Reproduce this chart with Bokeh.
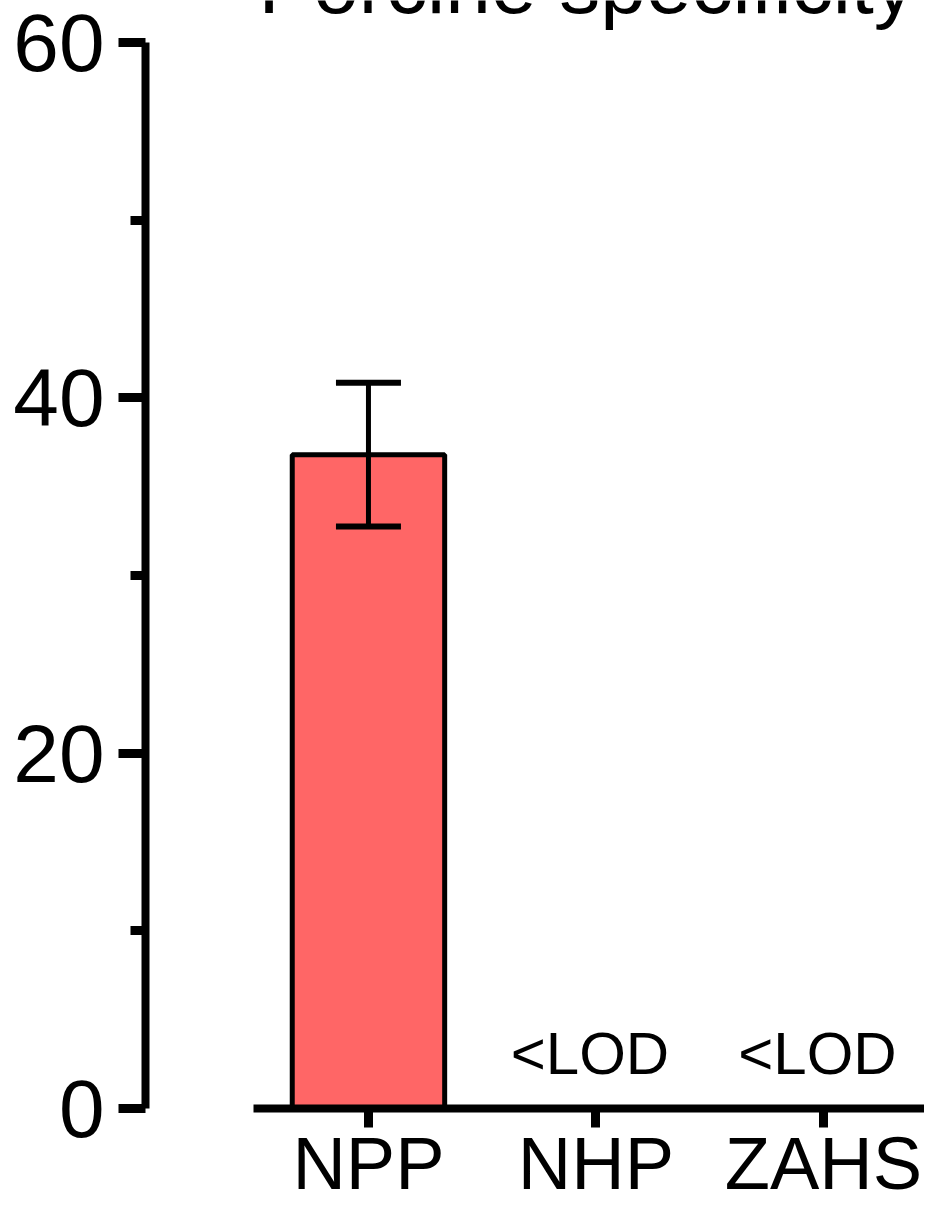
from bokeh.plotting import figure
from bokeh.models import (FixedTicker, Range1d, Label, Whisker, TeeHead,
                          ColumnDataSource)
from bokeh.core.properties import value
from bokeh.embed import file_html
from bokeh.resources import INLINE

# ---- data ----
categories = ["NPP", "NHP", "ZAHS"]
means = [36.8, 0.0, 0.0]
errors = [4.05, 0.0, 0.0]
below_lod = [False, True, True]
title_text = "Porcine specificity"
y_major_ticks = [0, 20, 40, 60]
y_minor_ticks = [10, 30, 50]

FONT = "Liberation Sans"
BAR_COLOR = "#FF6666"

idx = list(range(len(categories)))

p = figure(width=924, height=1207, output_backend="svg", toolbar_location=None,
           x_range=Range1d(-0.980, 2.444), y_range=Range1d(0, 62.36),
           min_border_left=145, min_border_right=0, min_border_top=0,
           min_border_bottom=99)
p.outline_line_color = None
p.xgrid.visible = False
p.ygrid.visible = False
p.background_fill_color = "white"
p.border_fill_color = "white"

# bars (only detected values)
bar_x = [i for i, b in zip(idx, below_lod) if not b]
bar_top = [m for m, b in zip(means, below_lod) if not b]
bar_err = [e for e, b in zip(errors, below_lod) if not b]
p.vbar(x=bar_x, top=bar_top, width=0.67, bottom=0, fill_color=BAR_COLOR,
       line_color="black", line_width=5)

err_src = ColumnDataSource(dict(x=bar_x,
                                lower=[m - e for m, e in zip(bar_top, bar_err)],
                                upper=[m + e for m, e in zip(bar_top, bar_err)]))
w = Whisker(source=err_src, base="x", lower="lower", upper="upper",
            line_color="black", line_width=5, level="annotation",
            lower_head=TeeHead(size=65, line_width=6, line_color="black"),
            upper_head=TeeHead(size=65, line_width=6, line_color="black"))
p.add_layout(w)

# <LOD labels
lod_x = [i for i, b in zip(idx, below_lod) if b]
p.text(x=lod_x, y=[0] * len(lod_x), text=["<LOD"] * len(lod_x),
       text_font=value(FONT), text_font_size="60px", text_color="black",
       text_align="center", text_baseline="alphabetic",
       x_offset=-6, y_offset=-55)

# y axis
ya = p.yaxis[0]
ya.ticker = FixedTicker(ticks=y_major_ticks, minor_ticks=y_minor_ticks)
ya.bounds = (0, 60)
ya.axis_line_width = 8
ya.axis_line_color = "black"
ya.major_tick_line_width = 9
ya.minor_tick_line_width = 9
ya.major_tick_out = 27
ya.major_tick_in = 0
ya.minor_tick_out = 15
ya.minor_tick_in = 0
ya.major_label_text_font = FONT
ya.major_label_text_font_size = "82px"
ya.major_label_text_color = "black"
ya.major_label_standoff = 14

# x axis with category names
xa = p.xaxis[0]
xa.ticker = FixedTicker(ticks=idx, minor_ticks=[])
xa.major_label_overrides = {i: c for i, c in zip(idx, categories)}
xa.major_label_text_font = FONT
xa.major_label_text_font_size = "74px"
xa.major_label_text_color = "black"
xa.major_label_standoff = -6
xa.bounds = (-0.505, 3.0)
xa.axis_line_width = 8
xa.axis_line_color = "black"
xa.major_tick_line_width = 9
xa.major_tick_out = 19
xa.major_tick_in = 0
xa.minor_tick_out = 0

# title (cropped at the top in the reference)
p.add_layout(Label(x=113, x_units="screen", y=60, y_units="data", y_offset=58,
                   text=title_text, text_font=FONT, text_font_size="82px",
                   text_color="black", text_baseline="alphabetic",
                   text_align="left"))

open("out.html", "w").write(file_html(p, INLINE))
